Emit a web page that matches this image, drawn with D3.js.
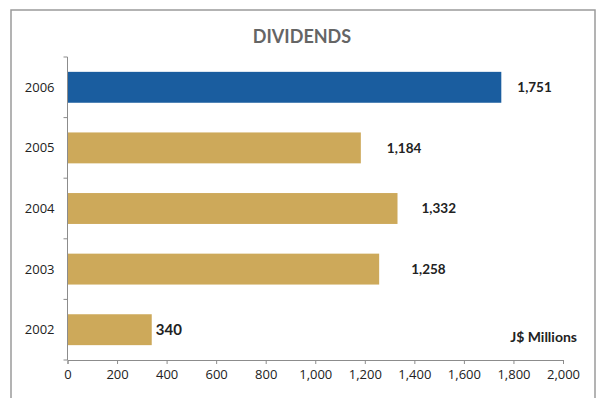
<!DOCTYPE html>
<html>
<head>
<meta charset="utf-8">
<script src="https://cdn.jsdelivr.net/npm/d3@7"></script>
<style>
  html, body { margin: 0; padding: 0; background: #fff; }
  svg { display: block; }
</style>
</head>
<body>
<svg id="chart" width="597" height="398"></svg>
<script>
// Dividends paid per year, J$ millions
const years = ["2006", "2005", "2004", "2003", "2002"];
const dividends = [1751, 1184, 1332, 1258, 340];
const xTicks = [0, 200, 400, 600, 800, 1000, 1200, 1400, 1600, 1800, 2000];
const highlightYear = "2006";
// extra spacing between bar end and its value label
const labelGap = [16, 26, 24, 32, 4];

const svg = d3.select("#chart");
const W = 597, H = 398;
const margin = { left: 67.5, right: 34, top: 57, bottom: 38 };

// outer frame
svg.append("rect")
  .attr("x", 11).attr("y", 10)
  .attr("width", 584).attr("height", 400)
  .attr("fill", "none")
  .attr("stroke", "#9a9a9a")
  .attr("stroke-width", 1.5);

// title
svg.append("text")
  .attr("x", 302).attr("y", 43)
  .attr("text-anchor", "middle")
  .attr("font-family", "Lato, 'DejaVu Sans', sans-serif")
  .attr("font-weight", "bold")
  .attr("font-size", 18)
  .attr("fill", "#656565")
  .text("DIVIDENDS");

const x = d3.scaleLinear()
  .domain([0, 2000])
  .range([margin.left, W - margin.right]);

const y = d3.scaleBand()
  .domain(years)
  .range([margin.top, H - margin.bottom])
  .paddingInner(0.49)
  .paddingOuter(0.245);

const data = years.map((yr, i) => ({ year: yr, value: dividends[i], gap: labelGap[i] }));

// bars
svg.append("g").selectAll("rect")
  .data(data)
  .join("rect")
  .attr("x", x(0))
  .attr("y", d => y(d.year))
  .attr("width", d => x(d.value) - x(0))
  .attr("height", y.bandwidth())
  .attr("fill", d => d.year === highlightYear ? "#1a5d9f" : "#cda95a");

// x axis
const xAxis = svg.append("g")
  .attr("transform", `translate(0,${H - margin.bottom})`)
  .call(d3.axisBottom(x).tickValues(xTicks).tickSize(4).tickPadding(6)
    .tickFormat(d3.format(",")));
xAxis.select(".domain").attr("stroke", "#8c8c8c");
xAxis.selectAll(".tick line").attr("stroke", "#8c8c8c");
xAxis.selectAll("text")
  .attr("font-family", "'Open Sans', 'DejaVu Sans', sans-serif")
  .attr("font-size", 13)
  .attr("fill", "#222");

// y axis with boundary ticks between categories
const yAxisG = svg.append("g").attr("transform", `translate(${x(0)},0)`);
const step = y.step();
const bounds = d3.range(years.length + 1).map(i => margin.top + i * step);
yAxisG.append("line")
  .attr("x1", 0).attr("x2", 0)
  .attr("y1", bounds[0]).attr("y2", bounds[bounds.length - 1])
  .attr("stroke", "#8c8c8c");
yAxisG.selectAll(".bt")
  .data(bounds)
  .join("line")
  .attr("x1", -4).attr("x2", 0)
  .attr("y1", d => d).attr("y2", d => d)
  .attr("stroke", "#8c8c8c");
yAxisG.selectAll("text")
  .data(years)
  .join("text")
  .attr("x", -13)
  .attr("y", d => y(d) + y.bandwidth() / 2)
  .attr("dy", "0.35em")
  .attr("text-anchor", "end")
  .attr("font-family", "'Open Sans', 'DejaVu Sans', sans-serif")
  .attr("font-size", 13)
  .attr("fill", "#222")
  .text(d => d);

// value labels
svg.append("g").selectAll("text")
  .data(data)
  .join("text")
  .attr("x", d => x(d.value) + d.gap)
  .attr("y", d => y(d.year) + y.bandwidth() / 2)
  .attr("dy", "0.35em")
  .attr("font-family", "Lato, 'DejaVu Sans', sans-serif")
  .attr("font-weight", "bold")
  .attr("font-size", d => d.year === "2002" ? 15 : 13.5)
  .attr("fill", "#222")
  .text(d => d3.format(",")(d.value));

// units note
svg.append("text")
  .attr("x", 577).attr("y", 337)
  .attr("dy", "0.35em")
  .attr("text-anchor", "end")
  .attr("font-family", "Lato, 'DejaVu Sans', sans-serif")
  .attr("font-weight", "bold")
  .attr("font-size", 14)
  .attr("fill", "#222")
  .text("J$ Millions");
</script>
</body>
</html>
